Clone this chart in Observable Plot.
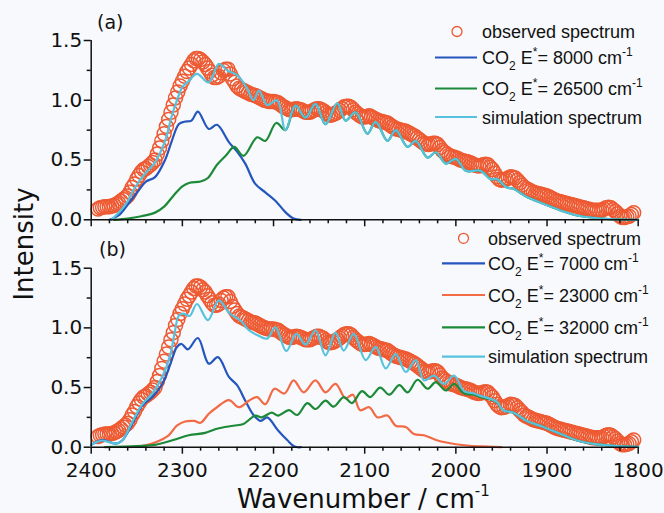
<!DOCTYPE html>
<html>
<head>
<meta charset="utf-8">
<script src="https://cdn.jsdelivr.net/npm/d3@7"></script>
<script src="https://cdn.jsdelivr.net/npm/@observablehq/plot@0.6"></script>
<style>
  body { margin: 0; background: #f7f9fc; }
  #chart { position: relative; width: 664px; height: 513px; }
  #chart > svg { display: block; }
  #overlay { position: absolute; left: 0; top: 0; pointer-events: none; }
</style>
</head>
<body>
<div id="chart"></div>
<script>
// ---- Axis ticks ----
const xMajor = [2400, 2300, 2200, 2100, 2000, 1900, 1800];
const xMinor = d3.range(1820, 2400, 20).filter(d => d % 100 !== 0);
const yMajor = [0, 0.5, 1.0, 1.5];
const yMinor = [0.25, 0.75, 1.25];

// ---- Observed spectrum: [wavenumber (cm-1), intensity] ----
const observed = [
  [2392.5,0.09],[2390,0.10],[2387.5,0.105],[2385,0.11],[2382.5,0.11],[2380,0.11],[2377.5,0.115],
  [2375,0.12],[2372.5,0.13],[2370,0.14],[2367.5,0.155],[2365,0.17],[2362.5,0.185],[2360,0.20],
  [2357.5,0.23],[2355,0.27],[2352.5,0.30],[2350,0.34],[2347.5,0.37],[2345,0.40],[2342.5,0.42],
  [2340,0.43],[2337.5,0.445],[2335,0.46],[2332.5,0.48],[2330,0.50],[2327.5,0.55],[2325,0.60],
  [2322.5,0.66],[2320,0.72],[2317.5,0.78],[2315,0.84],[2312.5,0.90],[2310,0.96],[2307.5,1.02],
  [2305,1.07],[2302.5,1.12],[2300,1.16],[2297.5,1.20],[2295,1.24],[2292.5,1.27],[2290,1.30],
  [2287.5,1.33],[2285,1.35],[2282.5,1.35],[2280,1.34],[2277.5,1.32],[2275,1.30],[2272.5,1.27],
  [2270,1.24],[2267.5,1.21],[2265,1.19],[2262.5,1.19],[2260,1.20],[2257.5,1.23],[2255,1.25],
  [2252.5,1.26],[2250,1.26],[2247.5,1.22],[2245,1.18],[2242.5,1.15],[2240,1.12],[2237.5,1.10],
  [2235,1.09],[2232.5,1.08],[2230,1.07],[2227.5,1.06],[2225,1.05],[2222.5,1.045],[2220,1.04],
  [2217.5,1.03],[2215,1.02],[2212.5,1.01],[2210,1.00],[2207.5,0.995],[2205,0.99],[2202.5,0.99],
  [2200,0.99],[2197.5,0.985],[2195,0.98],[2192.5,0.965],[2190,0.95],[2187.5,0.94],[2185,0.93],
  [2182.5,0.92],[2180,0.92],[2177.5,0.925],[2175,0.93],[2172.5,0.925],[2170,0.92],[2167.5,0.91],
  [2165,0.90],[2162.5,0.90],[2160,0.90],[2157.5,0.91],[2155,0.92],[2152.5,0.93],[2150,0.93],
  [2147.5,0.92],[2145,0.91],[2142.5,0.895],[2140,0.88],[2137.5,0.875],[2135,0.88],[2132.5,0.89],
  [2130,0.90],[2127.5,0.915],[2125,0.93],[2122.5,0.945],[2120,0.95],[2117.5,0.95],[2115,0.94],
  [2112.5,0.92],[2110,0.90],[2107.5,0.885],[2105,0.87],[2102.5,0.86],[2100,0.86],[2097.5,0.865],
  [2095,0.87],[2092.5,0.86],[2090,0.85],[2087.5,0.84],[2085,0.83],[2082.5,0.825],[2080,0.82],
  [2077.5,0.815],[2075,0.81],[2072.5,0.795],[2070,0.78],[2067.5,0.77],[2065,0.76],[2062.5,0.755],
  [2060,0.75],[2057.5,0.745],[2055,0.74],[2052.5,0.73],[2050,0.72],[2047.5,0.71],[2045,0.70],
  [2042.5,0.685],[2040,0.67],[2037.5,0.655],[2035,0.64],[2032.5,0.635],[2030,0.63],[2027.5,0.635],
  [2025,0.64],[2022.5,0.64],[2020,0.63],[2017.5,0.605],[2015,0.58],[2012.5,0.565],[2010,0.55],
  [2007.5,0.54],[2005,0.53],[2002.5,0.525],[2000,0.52],[1997.5,0.51],[1995,0.50],[1992.5,0.495],
  [1990,0.49],[1987.5,0.485],[1985,0.48],[1982.5,0.47],[1980,0.46],[1977.5,0.455],[1975,0.45],
  [1972.5,0.455],[1970,0.46],[1967.5,0.465],[1965,0.46],[1962.5,0.44],[1960,0.42],[1957.5,0.39],
  [1955,0.36],[1952.5,0.34],[1950,0.33],[1947.5,0.335],[1945,0.34],[1942.5,0.35],[1940,0.36],
  [1937.5,0.355],[1935,0.35],[1932.5,0.33],[1930,0.31],[1927.5,0.29],[1925,0.27],[1922.5,0.26],
  [1920,0.25],[1917.5,0.24],[1915,0.23],[1912.5,0.225],[1910,0.22],[1907.5,0.215],[1905,0.21],
  [1902.5,0.205],[1900,0.20],[1897.5,0.19],[1895,0.18],[1892.5,0.17],[1890,0.16],[1887.5,0.155],
  [1885,0.15],[1882.5,0.145],[1880,0.14],[1877.5,0.135],[1875,0.13],[1872.5,0.125],[1870,0.12],
  [1867.5,0.115],[1865,0.11],[1862.5,0.105],[1860,0.10],[1857.5,0.095],[1855,0.09],[1852.5,0.085],
  [1850,0.08],[1847.5,0.08],[1845,0.08],[1842.5,0.08],[1840,0.08],[1837.5,0.09],[1835,0.10],
  [1832.5,0.105],[1830,0.10],[1827.5,0.085],[1825,0.07],[1822.5,0.05],[1820,0.03],[1817.5,0.02],
  [1815,0.02],[1812.5,0.025],[1810,0.03],[1807.5,0.045],[1805,0.06]
];

// ---- Panel (a) ----
const simA = [
  [2378,0.00],[2375,0.02],[2363,0.12],[2352,0.27],[2341,0.385],[2330,0.48],[2319,0.66],
  [2312,0.86],[2306,1.00],[2302,1.08],[2300,1.11],[2293,1.16],[2284,1.22],[2271,1.15],
  [2260,1.305],[2251,1.25],[2240,1.21],[2229,1.10],[2222,1.00],[2216,1.08],[2207,0.96],
  [2196,1.00],[2187,0.75],[2176,0.955],[2165,0.855],[2154,0.97],[2143,0.80],[2130,0.975],
  [2121,0.83],[2110,0.90],[2097,0.72],[2088,0.82],[2075,0.66],[2066,0.75],[2053,0.61],
  [2044,0.66],[2031,0.52],[2022,0.565],[2011,0.47],[2000,0.51],[1989,0.41],[1973,0.41],
  [1962,0.34],[1955,0.34],[1944,0.27],[1937,0.26],[1922,0.19],[1904,0.134],[1886,0.08],
  [1867,0.036],[1849,0.017],[1831,0.006],[1800,0.00]
];
const co2A8000 = [
  [2380,0.00],[2370,0.036],[2359,0.136],[2348,0.245],[2340,0.32],[2330,0.357],[2319,0.50],
  [2312,0.65],[2304,0.80],[2298,0.82],[2290,0.83],[2283,0.905],[2271,0.76],[2262,0.795],
  [2249,0.65],[2240,0.57],[2231,0.47],[2220,0.30],[2209,0.23],[2198,0.16],[2187,0.064],
  [2178,0.01],[2170,0.00]
];
// high-wavenumber part; below 2180 cm-1 this component carries the whole simulation
const co2A26500 = [
  [2375,0.00],[2360,0.01],[2345,0.03],[2330,0.06],[2320,0.11],[2310,0.20],[2300,0.28],
  [2292,0.31],[2280,0.32],[2272,0.35],[2262,0.46],[2252,0.54],[2243,0.61],[2233,0.535],
  [2218,0.69],[2209,0.66],[2197,0.81],[2187,0.75]
];

// ---- Panel (b) ----
const simB = [
  [2400,0.02],[2388,0.056],[2373,0.03],[2366,0.056],[2355,0.21],[2344,0.36],[2333,0.45],
  [2322,0.59],[2313,0.78],[2308,0.98],[2304,1.10],[2299,1.12],[2292,1.10],[2284,1.20],
  [2272,1.065],[2260,1.23],[2248,1.12],[2236,1.06],[2227,0.98],[2218,0.94],[2207,0.91],
  [2198,1.005],[2186,0.805],[2175,0.95],[2165,0.86],[2154,0.98],[2143,0.77],[2132,0.96],
  [2123,0.81],[2112,0.95],[2099,0.73],[2088,0.84],[2077,0.66],[2066,0.78],[2055,0.63],
  [2044,0.73],[2035,0.56],[2024,0.60],[2013,0.53],[2002,0.60],[1991,0.47],[1980,0.45],
  [1973,0.43],[1962,0.405],[1955,0.38],[1948,0.31],[1937,0.29],[1922,0.22],[1904,0.17],
  [1885,0.11],[1867,0.056],[1849,0.028],[1831,0.014],[1800,0.003]
];
const co2B7000 = [
  [2400,0.02],[2388,0.06],[2373,0.03],[2366,0.056],[2355,0.195],[2344,0.35],[2333,0.42],
  [2322,0.53],[2313,0.70],[2306,0.84],[2301,0.865],[2294,0.82],[2283,0.915],[2271,0.70],
  [2261,0.755],[2249,0.59],[2240,0.52],[2231,0.39],[2222,0.27],[2214,0.22],[2207,0.25],
  [2195,0.14],[2185,0.06],[2177,0.005],[2170,0.00]
];
const co2B23000 = [
  [2360,0.00],[2345,0.01],[2330,0.04],[2315,0.10],[2306,0.18],[2297,0.215],[2287,0.22],
  [2280,0.205],[2271,0.28],[2262,0.335],[2249,0.395],[2238,0.335],[2227,0.39],[2218,0.42],
  [2209,0.36],[2199,0.49],[2188,0.45],[2178,0.56],[2167,0.46],[2154,0.56],[2143,0.46],
  [2132,0.53],[2121,0.41],[2113,0.44],[2105,0.31],[2095,0.335],[2086,0.25],[2075,0.265],
  [2066,0.18],[2055,0.17],[2046,0.11],[2035,0.10],[2020,0.056],[2000,0.025],[1985,0.012],
  [1965,0.005],[1950,0.00]
];
const co2B32000 = [
  [2385,0.00],[2350,0.01],[2330,0.02],[2310,0.06],[2293,0.10],[2275,0.12],[2262,0.155],
  [2244,0.18],[2233,0.195],[2220,0.265],[2213,0.25],[2202,0.29],[2195,0.265],[2183,0.31],
  [2174,0.27],[2163,0.37],[2154,0.32],[2143,0.39],[2134,0.34],[2123,0.42],[2114,0.37],
  [2103,0.47],[2094,0.42],[2083,0.50],[2073,0.44],[2062,0.52],[2053,0.46],[2042,0.565],
  [2031,0.49],[2022,0.545],[2011,0.475],[2002,0.53],[1991,0.45],[1980,0.44],[1973,0.42],
  [1962,0.40],[1955,0.375],[1948,0.31],[1937,0.29],[1922,0.22],[1904,0.17],[1885,0.11],
  [1867,0.056],[1849,0.028],[1831,0.014],[1800,0.003]
];

// ---- Styling ----
const C = {
  obs: "#ee5a32", blue: "#2456bd", green: "#1d8a3a", cyan: "#56c2de", orange: "#f26a46"
};
const rows = arr => arr.map(([wn, v]) => ({wn, v}));

function panel({height, marginTop, marginBottom, xLabels, series}) {
  return Plot.plot({
    width: 664, height,
    marginLeft: 90.7, marginRight: 26.3, marginTop, marginBottom,
    style: {background: "transparent", fontFamily: "DejaVu Sans", fontSize: "20px", color: "#111", overflow: "visible"},
    x: {domain: [2400, 1800]},
    y: {domain: [0, 1.5]},
    marks: [
      Plot.dot(rows(observed), {x: "wn", y: "v", r: 7, stroke: C.obs, strokeWidth: 1.5, fill: "none"}),
      ...series.map(s => Plot.line(rows(s.data), {x: "wn", y: "v", stroke: s.color, strokeWidth: 2.2, curve: "catmull-rom"})),
      Plot.ruleX([2400], {strokeWidth: 1.5, stroke: "#111"}),
      Plot.ruleY([0], {strokeWidth: 1.5, stroke: "#111"}),
      Plot.axisY(yMajor, {tickSize: 7, tickPadding: 2, strokeWidth: 1.5, tickFormat: d3.format(".1f"), label: null}),
      Plot.axisY(yMinor, {tickSize: 4, strokeWidth: 1.5, tickFormat: () => "", label: null}),
      Plot.axisX(xMajor, {tickSize: 7, tickPadding: 9, strokeWidth: 1.5, tickFormat: xLabels ? d => String(d) : () => "", label: null}),
      Plot.axisX(xMinor, {tickSize: 4, strokeWidth: 1.5, tickFormat: () => "", label: null})
    ]
  });
}

// Rich text with sub/superscripts: parts are [text, shift, size]
function richText(sel, parts, baseSize) {
  let cur = 0;
  parts.forEach(([txt, shift = 0, size = baseSize]) => {
    sel.append("tspan").attr("dy", shift - cur).attr("font-size", size).text(txt);
    cur = shift;
  });
}
const co2Label = e => [["CO"], ["2", 6, 12], [" E", 0], ["*", -8, 12], [`= ${e} cm`, 0], ["-1", -8, 12]];

function legend(svg, {cx, lx0, lx1, tx, items}) {
  const g = d3.select(svg).append("g")
    .attr("font-family", "'Liberation Sans', Arial, sans-serif")
    .attr("text-anchor", "start")
    .attr("fill", "#111");
  items.forEach(it => {
    if (it.dot) {
      g.append("circle").attr("cx", cx).attr("cy", it.y).attr("r", 5)
        .attr("fill", "none").attr("stroke", C.obs).attr("stroke-width", 1.3);
    } else {
      g.append("line").attr("x1", lx0).attr("x2", lx1).attr("y1", it.y).attr("y2", it.y)
        .attr("stroke", it.color).attr("stroke-width", 2.2);
    }
    const t = g.append("text").attr("x", tx).attr("y", it.y + 6.5).attr("font-size", 18);
    richText(t, it.parts, 18);
  });
}

function panelTag(svg, x, y, s) {
  d3.select(svg).append("text").attr("x", x).attr("y", y)
    .attr("text-anchor", "start")
    .attr("font-family", "DejaVu Sans").attr("font-size", 19).attr("fill", "#111").text(s);
}

// ---- Build ----
const chart = document.getElementById("chart");

const svgA = panel({
  height: 227, marginTop: 40, marginBottom: 7.7, xLabels: false,
  series: [
    {data: co2A8000, color: C.blue},
    {data: co2A26500.concat(simA.filter(d => d[0] < 2180)), color: C.green},
    {data: simA, color: C.cyan}
  ]
});
panelTag(svgA, 97, 29, "(a)");
legend(svgA, {
  cx: 457, lx0: 435, lx1: 477, tx: 482,
  items: [
    {dot: true, y: 31.5, parts: [["observed spectrum"]]},
    {y: 57.5, color: C.blue, parts: co2Label("8000")},
    {y: 88.5, color: C.green, parts: co2Label("26500")},
    {y: 117, color: C.cyan, parts: [["simulation spectrum"]]}
  ]
});

const svgB = panel({
  height: 286, marginTop: 40.7, marginBottom: 66.3, xLabels: true,
  series: [
    {data: co2B7000, color: C.blue},
    {data: co2B23000, color: C.orange},
    {data: co2B32000, color: C.green},
    {data: simB, color: C.cyan}
  ]
});
panelTag(svgB, 99, 29, "(b)");
legend(svgB, {
  cx: 463.5, lx0: 442, lx1: 485, tx: 488,
  items: [
    {dot: true, y: 11.3, parts: [["observed spectrum"]]},
    {y: 36.3, color: C.blue, parts: co2Label("7000")},
    {y: 68, color: C.orange, parts: co2Label("23000")},
    {y: 100.3, color: C.green, parts: co2Label("32000")},
    {y: 129.7, color: C.cyan, parts: [["simulation spectrum"]]}
  ]
});
// x-axis title
{
  const t = d3.select(svgB).append("text").attr("x", 237).attr("y", 281)
    .attr("text-anchor", "start")
    .attr("font-family", "DejaVu Sans").attr("fill", "#111");
  richText(t, [["Wavenumber / cm"], ["-1", -12, 15]], 26);
}

chart.append(svgA, svgB);

// shared y-axis title spanning both panels
const overlay = d3.select(chart).append("svg").attr("id", "overlay")
  .attr("width", 664).attr("height", 513);
overlay.append("text")
  .attr("transform", "translate(33,244) rotate(-90)")
  .attr("text-anchor", "middle")
  .attr("font-family", "DejaVu Sans").attr("font-size", 26).attr("fill", "#111")
  .text("Intensity");
</script>
</body>
</html>
